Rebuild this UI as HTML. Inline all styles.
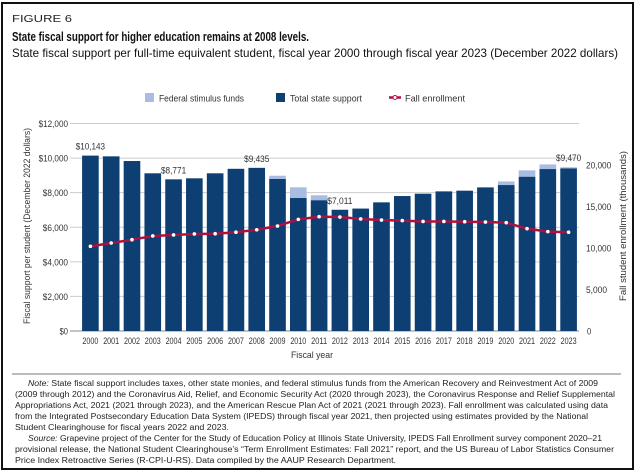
<!DOCTYPE html>
<html><head><meta charset="utf-8"><style>
html,body{margin:0;padding:0;background:#fff;}
svg{display:block;font-family:"Liberation Sans",sans-serif;}
</style></head><body>
<svg id="chart" width="640" height="474" viewBox="0 0 640 474">
<rect x="2" y="3" width="631" height="466" fill="#fff" stroke="#111" stroke-width="2"/>
<text x="12" y="22" font-size="10.5" fill="#222" textLength="60" lengthAdjust="spacingAndGlyphs">FIGURE 6</text>
<text x="12" y="41" font-size="12.5" font-weight="bold" fill="#111" textLength="297" lengthAdjust="spacingAndGlyphs">State fiscal support for higher education remains at 2008 levels.</text>
<text x="12" y="57" font-size="12" fill="#111" textLength="606" lengthAdjust="spacingAndGlyphs">State fiscal support per full-time equivalent student, fiscal year 2000 through fiscal year 2023 (December 2022 dollars)</text>
<g>
<g><rect x="145" y="93" width="9" height="9" fill="#a9bde3"/><text x="159" y="101.5" font-size="9.5" fill="#333" textLength="85" lengthAdjust="spacingAndGlyphs">Federal stimulus funds</text></g>
<g><rect x="276" y="93" width="9" height="9" fill="#0d3f73"/><text x="290" y="101.5" font-size="9.5" fill="#333" textLength="72" lengthAdjust="spacingAndGlyphs">Total state support</text></g>
<g><line x1="389" y1="97.5" x2="401" y2="97.5" stroke="#b0103f" stroke-width="2.5"/><circle cx="395" cy="97.5" r="2" fill="#fff" stroke="#b0103f"/><text x="405" y="101.5" font-size="9.5" fill="#333" textLength="60" lengthAdjust="spacingAndGlyphs">Fall enrollment</text></g>
</g>
<g id="grid"></g><g id="bars"></g><g id="line"></g><g id="axes"></g>
<text transform="translate(30,226) rotate(-90)" text-anchor="middle" font-size="9.5" fill="#333" textLength="196" lengthAdjust="spacingAndGlyphs">Fiscal support per student (December 2022 dollars)</text>
<text transform="translate(626,226) rotate(-90)" text-anchor="middle" font-size="9.5" fill="#333" textLength="150" lengthAdjust="spacingAndGlyphs">Fall student enrollment (thousands)</text>
<text x="312" y="358" text-anchor="middle" font-size="9.5" fill="#333" textLength="42" lengthAdjust="spacingAndGlyphs">Fiscal year</text>
<line x1="12" y1="374" x2="621" y2="374" stroke="#777" stroke-width="1"/>
<g font-size="8" fill="#222">
<text x="28" y="386" textLength="570" lengthAdjust="spacingAndGlyphs"><tspan font-style="italic">Note:</tspan> State fiscal support includes taxes, other state monies, and federal stimulus funds from the American Recovery and Reinvestment Act of 2009</text>
<text x="15" y="397" textLength="600" lengthAdjust="spacingAndGlyphs">(2009 through 2012) and the Coronavirus Aid, Relief, and Economic Security Act (2020 through 2023), the Coronavirus Response and Relief Supplemental</text>
<text x="15" y="408" textLength="593" lengthAdjust="spacingAndGlyphs">Appropriations Act, 2021 (2021 through 2023), and the American Rescue Plan Act of 2021 (2021 through 2023). Fall enrollment was calculated using data</text>
<text x="15" y="419" textLength="573" lengthAdjust="spacingAndGlyphs">from the Integrated Postsecondary Education Data System (IPEDS) through fiscal year 2021, then projected using estimates provided by the National</text>
<text x="15" y="430" textLength="214" lengthAdjust="spacingAndGlyphs">Student Clearinghouse for fiscal years 2022 and 2023.</text>
<text x="28" y="441" textLength="574" lengthAdjust="spacingAndGlyphs"><tspan font-style="italic">Source:</tspan> Grapevine project of the Center for the Study of Education Policy at Illinois State University, IPEDS Fall Enrollment survey component 2020–21</text>
<text x="15" y="452" textLength="599" lengthAdjust="spacingAndGlyphs">provisional release, the National Student Clearinghouse’s “Term Enrollment Estimates: Fall 2021” report, and the US Bureau of Labor Statistics Consumer</text>
<text x="15" y="463" textLength="381" lengthAdjust="spacingAndGlyphs">Price Index Retroactive Series (R-CPI-U-RS). Data compiled by the AAUP Research Department.</text>
</g>
</svg>
<script>
const years = ["2000","2001","2002","2003","2004","2005","2006","2007","2008","2009","2010","2011","2012","2013","2014","2015","2016","2017","2018","2019","2020","2021","2022","2023"];
const stateSupport = [10143,10100,9830,9120,8771,8830,9120,9380,9435,8790,7690,7560,7011,7080,7440,7805,7940,8075,8115,8305,8440,8920,9365,9400];
const stimulus = [0,0,0,0,0,0,0,0,0,190,620,290,0,0,0,0,0,0,0,0,210,370,270,70];
const enrollment = [10200,10600,11000,11450,11570,11690,11720,11900,12200,12650,13450,13770,13730,13500,13370,13300,13200,13200,13170,13130,13050,12330,11970,11900];
const leftTicks = [0,2000,4000,6000,8000,10000,12000];
const rightTicks = [0,5000,10000,15000,20000];
const labels = [{i:0,t:"$10,143"},{i:4,t:"$8,771"},{i:8,t:"$9,435"},{i:12,t:"$7,011"},{i:23,t:"$9,470"}];

const NS="http://www.w3.org/2000/svg";
const X0=80,X1=579,Y0=331,Y1=123.5;
const band=(X1-X0)/years.length;
const yL=v=>Y0-(v/12000)*(Y0-Y1);
const yR=v=>Y0-(v/25000)*(Y0-Y1);
const xC=i=>X0+band*(i+0.5);
function mk(tag,attrs,parent,text){const e=document.createElementNS(NS,tag);for(const k in attrs)e.setAttribute(k,attrs[k]);if(text!==undefined)e.textContent=text;parent.appendChild(e);return e;}
const grid=document.getElementById('grid'),bars=document.getElementById('bars'),line=document.getElementById('line'),axes=document.getElementById('axes');
leftTicks.forEach(v=>{
  const g=mk('line',{x1:X0-10,x2:X1,y1:yL(v),y2:yL(v),stroke:v===0?'#888':'#ccc','stroke-width':1},grid);
  
  
  const s='$'+v.toLocaleString('en-US');
  const t=mk('text',{x:68,y:yL(v)+3.5,'text-anchor':'end','font-size':9,fill:'#333',textLength:s.length*4.2,lengthAdjust:'spacingAndGlyphs'},axes,s);
  
  
});
rightTicks.forEach(v=>{
  const s=v.toLocaleString('en-US');
  const t=mk('text',{x:v===0?587:586,y:yR(v)+3.5,'font-size':9,fill:'#333',textLength:s.length*4.2,lengthAdjust:'spacingAndGlyphs'},axes,s);
  
  
});
const bw=band*0.8;
years.forEach((yr,i)=>{
  const x=xC(i)-bw/2;
  if(stimulus[i]>0){
    const s=mk('rect',{x:x,y:yL(stateSupport[i]+stimulus[i]),width:bw,height:yL(stateSupport[i])-yL(stateSupport[i]+stimulus[i]),fill:'#a9bde3'},bars);
    
    
  }
  const r=mk('rect',{x:x,y:yL(stateSupport[i]),width:bw,height:Y0-yL(stateSupport[i]),fill:'#0d3f73'},bars);
  
  
  const t=mk('text',{x:xC(i),y:344,'text-anchor':'middle','font-size':9,fill:'#333',textLength:16,lengthAdjust:'spacingAndGlyphs'},axes,yr);
  
  
});
labels.forEach(l=>{
  const top=yL(stateSupport[l.i]+stimulus[l.i]);
  const t=mk('text',{x:xC(l.i),y:top-6,'text-anchor':'middle','font-size':9,fill:'#333',textLength:l.t.length*4.2,lengthAdjust:'spacingAndGlyphs'},axes,l.t);
  
  
});
let d='';
enrollment.forEach((v,i)=>{d+=(i?'L':'M')+xC(i)+','+yR(v);});
const p=mk('path',{d:d,fill:'none',stroke:'#b0103f','stroke-width':2.5,'stroke-linejoin':'round'},line);


enrollment.forEach((v,i)=>{
  const c=mk('circle',{cx:xC(i),cy:yR(v),r:1.8,fill:'#fff'},line);
  
  
});
</script>
</body></html>
